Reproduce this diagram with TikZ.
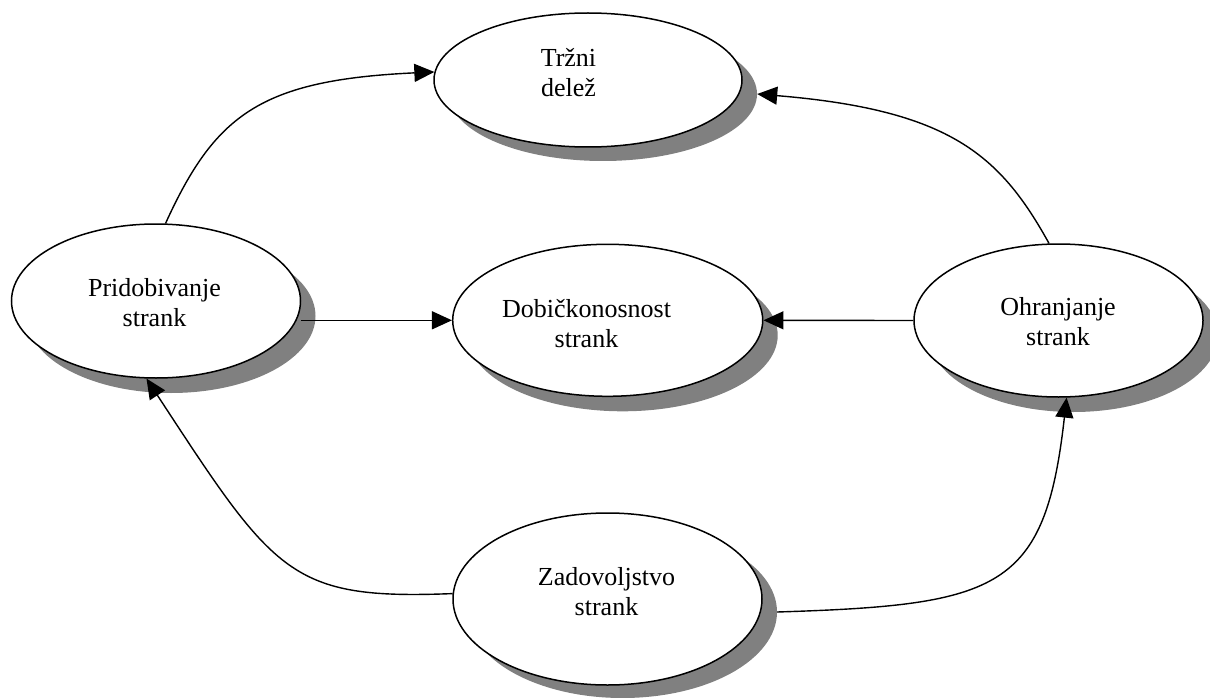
\documentclass[tikz,border=0pt]{standalone}
\usepackage{fontspec}
\setmainfont{Liberation Serif}
\usetikzlibrary{shapes.geometric,arrows.meta}
\begin{document}
\begin{tikzpicture}[x=1pt,y=-1pt,
  bubble/.style={ellipse, draw=black, line width=1.5pt, fill=white, inner sep=0pt},
  shade/.style={ellipse, fill=gray, draw=none, inner sep=0pt},
  caption/.style={inner sep=0pt, anchor=base, font=\fontsize{26}{30}\selectfont},
  link/.style={line width=1.4pt, -{Triangle[length=20pt,width=18pt]}}]
\useasboundingbox (0,0) rectangle (1210,698);

% shadows, offset down and to the right
\node[shade, minimum width=308pt, minimum height=134pt] (trz-sh) at (603,94) {};
\node[shade, minimum width=289pt, minimum height=154pt] (pri-sh) at (171,316) {};
\node[shade, minimum width=310pt, minimum height=152pt] (dob-sh) at (622.7,335.3) {};
\node[shade, minimum width=289pt, minimum height=153pt] (ohr-sh) at (1073.5,335.5) {};
\node[shade, minimum width=309pt, minimum height=172pt] (zad-sh) at (622.5,612) {};

% ellipses
\node[bubble, minimum width=308pt, minimum height=134pt] (trz) at (588,80) {};
\node[bubble, minimum width=289pt, minimum height=154pt] (pri) at (156,301) {};
\node[bubble, minimum width=310pt, minimum height=152pt] (dob) at (607.7,320.3) {};
\node[bubble, minimum width=289pt, minimum height=153pt] (ohr) at (1058.5,320.5) {};
\node[bubble, minimum width=309pt, minimum height=172pt] (zad) at (607.5,599) {};

% labels (anchored at the first baseline)
\node[caption] (trz-t) at (568.5,67) {\begin{tabular}[t]{@{}c@{}}Tržni\\delež\end{tabular}};
\node[caption] (pri-t) at (154.5,296.7) {\begin{tabular}[t]{@{}c@{}}Pridobivanje\\strank\end{tabular}};
\node[caption] (dob-t) at (586.5,317) {\begin{tabular}[t]{@{}c@{}}Dobičkonosnost\\strank\end{tabular}};
\node[caption] (ohr-t) at (1058,315) {\begin{tabular}[t]{@{}c@{}}Ohranjanje\\strank\end{tabular}};
\node[caption] (zad-t) at (606.5,585) {\begin{tabular}[t]{@{}c@{}}Zadovoljstvo\\strank\end{tabular}};

% connectors
\draw[link] (pri.83) .. controls (215,115) and (260,80) .. (trz.177);
\draw[link] (ohr.97) .. controls (1000,155) and (950,110) .. (trz-sh.east);
\draw[link] (pri.east |- dob.west) -- (dob.west);
\draw[link] (ohr.west) -- (dob.east);
\draw[link] (zad.178) .. controls (290,600) and (275,575) .. (pri.263);
\draw[link] (zad-sh.east) .. controls (1000,605) and (1045,590) .. (ohr.276);
\end{tikzpicture}
\end{document}
